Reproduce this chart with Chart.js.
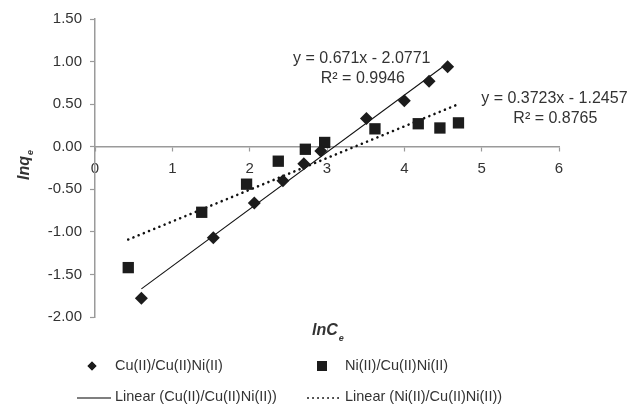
<!DOCTYPE html>
<html>
<head>
<meta charset="utf-8">
<script src="https://cdn.jsdelivr.net/npm/chart.js@4"></script>
<style>
  html, body { margin: 0; padding: 0; background: #fff; }
</style>
</head>
<body>
<canvas id="canvas" width="643" height="418"></canvas>
<script>
/* global Chart */

// Points (lnCe, lnqe)
const cuX = [0.60, 1.53, 2.06, 2.43, 2.70, 2.92, 3.51, 4.00, 4.32, 4.56];
const cuY = [-1.78, -1.07, -0.66, -0.40, -0.20, -0.05, 0.33, 0.54, 0.77, 0.94];
const niX = [0.43, 1.38, 1.96, 2.37, 2.72, 2.97, 3.62, 4.18, 4.46, 4.70];
const niY = [-1.42, -0.77, -0.44, -0.17, -0.03, 0.05, 0.21, 0.27, 0.22, 0.28];

// Trendline end points
const cuTrendX = [0.60, 4.56];
const cuTrendY = [-1.67, 0.98];
const niTrendX = [0.43, 4.70];
const niTrendY = [-1.09, 0.50];

const seriesNames = ["Cu(II)/Cu(II)Ni(II)", "Ni(II)/Cu(II)Ni(II)"];
const trendNames = ["Linear (Cu(II)/Cu(II)Ni(II))", "Linear (Ni(II)/Cu(II)Ni(II))"];
const cuEquation = ["y = 0.671x - 2.0771", "R\u00B2 = 0.9946"];
const niEquation = ["y = 0.3723x - 1.2457", "R\u00B2 = 0.8765"];
// where the equation boxes sit (data units)
const cuEqAt = [3.45, 0.92];
const niEqAt = [5.94, 0.45];

const xMin = 0, xMax = 6, xStep = 1;
const yMin = -2, yMax = 1.5, yStep = 0.5;

const FONT = "'Liberation Sans', Arial, sans-serif";
const TEXT = "#333333";
const AXIS = "#9a9a9a";
const MARK = "#1c1c1c";

function toPoints(xs, ys) {
  return xs.map((x, i) => ({ x: x, y: ys[i] }));
}

// Axis titles, equations and the legend are drawn here
const extras = {
  id: "extras",
  afterDraw(chart) {
    const ctx = chart.ctx;
    const xs = chart.scales.x;
    const ys = chart.scales.y;
    ctx.save();
    ctx.fillStyle = TEXT;

    // equations
    ctx.font = "16px " + FONT;
    ctx.textAlign = "center";
    ctx.textBaseline = "middle";
    [[cuEquation, cuEqAt], [niEquation, niEqAt]].forEach(([lines, at]) => {
      const px = xs.getPixelForValue(at[0]);
      const py = ys.getPixelForValue(at[1]);
      ctx.fillText(lines[0], px, py - 10);
      ctx.fillText(lines[1], px + 1, py + 10);
    });

    // x title
    ctx.textAlign = "left";
    ctx.textBaseline = "alphabetic";
    ctx.font = "italic bold 16px " + FONT;
    ctx.fillText("lnC", 312, 335);
    let w = ctx.measureText("lnC").width;
    ctx.font = "italic bold 9px " + FONT;
    ctx.fillText("e", 312 + w + 1, 341);

    // y title
    ctx.save();
    ctx.translate(29, 180);
    ctx.rotate(-Math.PI / 2);
    ctx.font = "italic bold 16px " + FONT;
    ctx.fillText("lnq", 0, 0);
    w = ctx.measureText("lnq").width;
    ctx.font = "italic bold 9px " + FONT;
    ctx.fillText("e", w + 1, 4);
    ctx.restore();

    // legend
    ctx.font = "14.5px " + FONT;
    ctx.textBaseline = "middle";
    ctx.fillStyle = TEXT;
    ctx.fillText(seriesNames[0], 115, 366);
    ctx.fillText(seriesNames[1], 345, 366);
    ctx.fillText(trendNames[0], 115, 397);
    ctx.fillText(trendNames[1], 345, 397);

    ctx.fillStyle = MARK;
    Chart.helpers.drawPoint(ctx, { pointStyle: "rectRot", radius: 4.5, rotation: 0 }, 92, 366);
    ctx.fill();
    ctx.fillRect(317, 361, 10, 10);

    ctx.strokeStyle = "#555";
    ctx.lineWidth = 1.5;
    ctx.beginPath();
    ctx.moveTo(77, 398);
    ctx.lineTo(111, 398);
    ctx.stroke();

    ctx.strokeStyle = "#222";
    ctx.lineWidth = 2;
    ctx.lineCap = "round";
    ctx.setLineDash([0.01, 5]);
    ctx.beginPath();
    ctx.moveTo(308, 398);
    ctx.lineTo(340, 398);
    ctx.stroke();
    ctx.restore();
  }
};

function buildConfig() {
  return {
    type: "scatter",
    data: {
      datasets: [
        {
          label: seriesNames[0],
          data: toPoints(cuX, cuY),
          pointStyle: "rectRot",
          pointRadius: 6.5,
          backgroundColor: MARK,
          borderColor: MARK,
          borderWidth: 0
        },
        {
          label: seriesNames[1],
          data: toPoints(niX, niY),
          pointStyle: "rect",
          pointRadius: 8,
          backgroundColor: MARK,
          borderColor: MARK,
          borderWidth: 0
        },
        {
          type: "line",
          label: trendNames[0],
          data: toPoints(cuTrendX, cuTrendY),
          borderColor: "#111",
          borderWidth: 1.1,
          pointRadius: 0,
          fill: false
        },
        {
          type: "line",
          label: trendNames[1],
          data: toPoints(niTrendX, niTrendY),
          borderColor: "#111",
          borderWidth: 2.6,
          borderDash: [0.01, 5.6],
          borderCapStyle: "round",
          pointRadius: 0,
          fill: false
        }
      ]
    },
    options: {
      responsive: false,
      animation: false,
      events: [],
      layout: { padding: { left: 0, top: 19, right: 84, bottom: 101 } },
      plugins: {
        legend: { display: false },
        tooltip: { enabled: false }
      },
      scales: {
        x: {
          type: "linear",
          position: { y: 0 },
          min: xMin,
          max: xMax,
          ticks: {
            stepSize: xStep,
            padding: 9,
            color: TEXT,
            font: { family: FONT, size: 15 },
            callback: (v) => String(v)
          },
          grid: {
            drawOnChartArea: false,
            drawTicks: true,
            tickLength: 4,
            tickColor: AXIS,
            tickWidth: 1.2
          },
          border: { display: true, color: AXIS, width: 1.5 }
        },
        y: {
          type: "linear",
          min: yMin,
          max: yMax,
          afterFit: (scale) => { scale.width = 95; },
          ticks: {
            stepSize: yStep,
            padding: 8,
            color: TEXT,
            font: { family: FONT, size: 15 },
            callback: (v) => Number(v).toFixed(2)
          },
          grid: {
            drawOnChartArea: false,
            drawTicks: true,
            tickLength: 5,
            tickColor: AXIS,
            tickWidth: 1.2
          },
          border: { display: true, color: AXIS, width: 1.5 }
        }
      }
    },
    plugins: [extras]
  };
}

function publishChart(config) {
  const ctx = document.getElementById("canvas").getContext("2d");
  window.myChart = new Chart(ctx, config);
}

publishChart(buildConfig());
</script>
</body>
</html>
